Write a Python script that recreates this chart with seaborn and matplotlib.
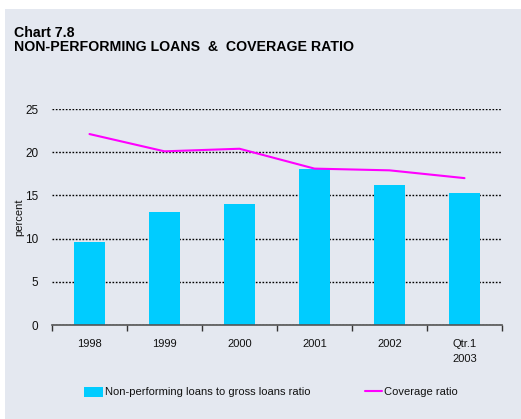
import numpy as np
import pandas as pd
import matplotlib
matplotlib.use("Agg")
import matplotlib.pyplot as plt
from matplotlib.patches import Rectangle
from matplotlib.lines import Line2D
from matplotlib.patches import Patch
import seaborn as sns

periods = ["1998", "1999", "2000", "2001", "2002", "Qtr.1\n2003"]
npl_ratio = [9.6, 13.1, 14.0, 18.0, 16.2, 15.3]
coverage_ratio = [22.1, 20.1, 20.4, 18.1, 17.9, 17.0]

bg = "#E4E8F0"
bar_color = "#00CCFF"
line_color = "#FF00FF"
ink = "#111111"

sns.set_style("white")
plt.rcParams["font.family"] = ["Liberation Sans", "DejaVu Sans"]
plt.rcParams["text.color"] = ink

fig = plt.figure(figsize=(5.21, 4.19), dpi=100)
fig.patch.set_facecolor("white")
panel = Rectangle((5 / 521, 0), 1, 410 / 419, transform=fig.transFigure,
                  facecolor=bg, edgecolor="none", zorder=-10)
fig.add_artist(panel)

ax = fig.add_axes([52 / 521, (419 - 325) / 419, 450 / 521, 216 / 419])
ax.set_zorder(1)
ax.set_facecolor("none")

df = pd.DataFrame({"period": periods, "npl": npl_ratio, "coverage": coverage_ratio})
sns.barplot(data=df, x="period", y="npl", color=bar_color, width=0.42,
            saturation=1, edgecolor="none", linewidth=0, ax=ax, zorder=3)
sns.lineplot(x=np.arange(len(periods)), y=df["coverage"], color=line_color,
             linewidth=1.5, ax=ax, zorder=4)

ax.set_xlim(-0.5, len(periods) - 0.5)
ax.set_ylim(0, 25)
ax.set_yticks([0, 5, 10, 15, 20, 25])
ax.yaxis.grid(True, color="black", linestyle=(0, (1.2, 1.2)), linewidth=1.0, zorder=1)
ax.set_axisbelow(True)
for s in ["top", "right", "left"]:
    ax.spines[s].set_visible(False)
ax.spines["bottom"].set_color("#555555")
ax.spines["bottom"].set_linewidth(1.2)
ax.spines["bottom"].set_zorder(5)

ax.set_xticks(np.arange(len(periods)))
ax.set_xticklabels(periods, fontsize=8, color=ink, linespacing=1.6)
ax.set_xticks(np.arange(-0.5, len(periods)), minor=True)
ax.tick_params(axis="x", which="major", bottom=True, length=0, pad=10)
ax.tick_params(axis="x", which="minor", bottom=True, length=4, width=1,
               color="#333333", direction="out")
ax.tick_params(axis="y", length=0, labelsize=8.5, colors=ink, pad=10)
ax.set_xlabel("")
ax.set_ylabel("percent", fontsize=8, color=ink)
ax.yaxis.set_label_coords(-0.061, 0.5)

fig.text(14 / 521, 1 - 33 / 419, "Chart 7.8", fontsize=10.2, fontweight="bold",
         va="center", color="black")
fig.text(14 / 521, 1 - 47 / 419, "NON-PERFORMING LOANS  &  COVERAGE RATIO",
         fontsize=10.2, fontweight="bold", va="center", color="black")

handles = [Patch(facecolor=bar_color, edgecolor="none"),
           Line2D([0], [0], color=line_color, linewidth=1.5)]
leg1 = fig.legend([handles[0]], ["Non-performing loans to gross loans ratio"],
                  loc="center left", bbox_to_anchor=(84 / 521, 1 - 392 / 419),
                  frameon=False, fontsize=8, handlelength=1.7, handleheight=1.0,
                  handletextpad=0.2, borderaxespad=0, borderpad=0)
leg2 = fig.legend([handles[1]], ["Coverage ratio"],
                  loc="center left", bbox_to_anchor=(365 / 521, 1 - 392 / 419),
                  frameon=False, fontsize=8, handlelength=1.5,
                  handletextpad=0.2, borderaxespad=0, borderpad=0)

fig.savefig("out.png", dpi=100, facecolor=fig.get_facecolor())
